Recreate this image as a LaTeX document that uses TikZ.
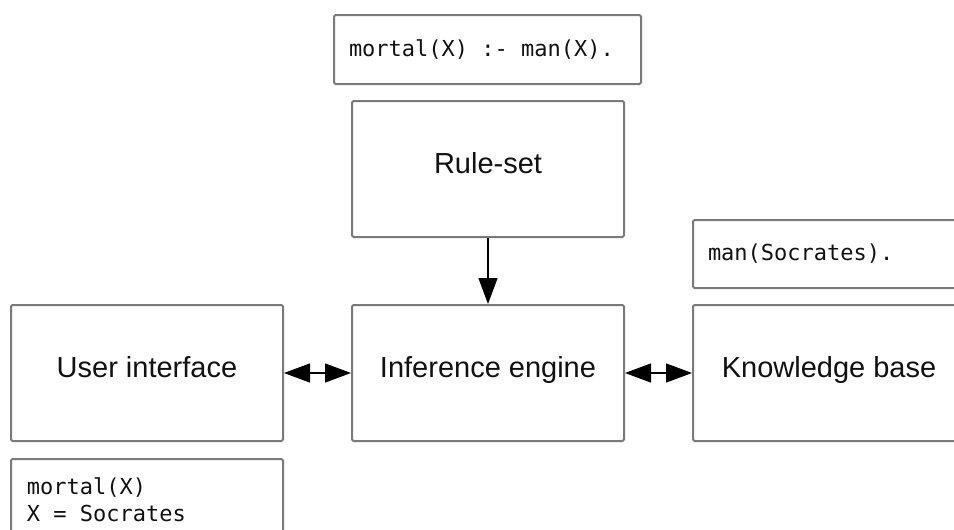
\documentclass[tikz,border=0pt]{standalone}
\usepackage{fontspec}
\usetikzlibrary{arrows.meta}
\newfontfamily\labelfamily{Liberation Sans}
\newfontfamily\codefamily{DejaVu Sans Mono}
\definecolor{boxgray}{HTML}{7A7A7A}
\definecolor{inkblack}{HTML}{111111}
\newcommand{\labelFont}{\labelfamily\fontsize{29}{34}\selectfont}
\newcommand{\codeFont}{\codefamily\fontsize{22}{27}\selectfont}
\tikzset{
  partbox/.style={draw=boxgray, line width=2pt, rounded corners=1.5pt, minimum width=272pt, minimum height=136pt, text=inkblack, font=\labelFont, text height=20pt, text depth=11pt},
  codebox/.style={draw=boxgray, line width=2pt, rounded corners=1.5pt, text=inkblack, font=\codeFont, align=left, inner xsep=15pt, execute at begin node={\spaceskip=0.602em\relax}},
  link/.style={line width=1.3pt, -{Triangle[length=26pt,width=19pt]}},
  duplex/.style={line width=1.3pt, {Triangle[length=26pt,width=19pt]}-{Triangle[length=26pt,width=19pt]}}
}

\begin{document}
\begin{tikzpicture}[x=1pt,y=-1pt]
\useasboundingbox (0,0) rectangle (954,530);
\node[codebox, minimum width=307pt, minimum height=69pt, text width=277pt] (rulecode) at (487.5,49.5) {mortal(X) :- man(X).};
\node[partbox] (ruleset) at (488,169) {Rule-set};
\node[codebox, minimum width=272pt, minimum height=68pt, text width=242pt] (factcode) at (829,254) {man(Socrates).};
\node[partbox] (ui) at (147,373) {User interface};
\node[partbox] (engine) at (488,373) {Inference engine};
\node[partbox] (kb) at (829,373) {Knowledge base};
\node[codebox, minimum width=272pt, minimum height=82pt, text width=240pt, inner xsep=16pt] (answer) at (147,500) {mortal(X)\\X = Socrates};
\draw[link] (ruleset) -- (engine);
\draw[duplex] (ui) -- (engine);
\draw[duplex] (engine) -- (kb);
\end{tikzpicture}
\end{document}
